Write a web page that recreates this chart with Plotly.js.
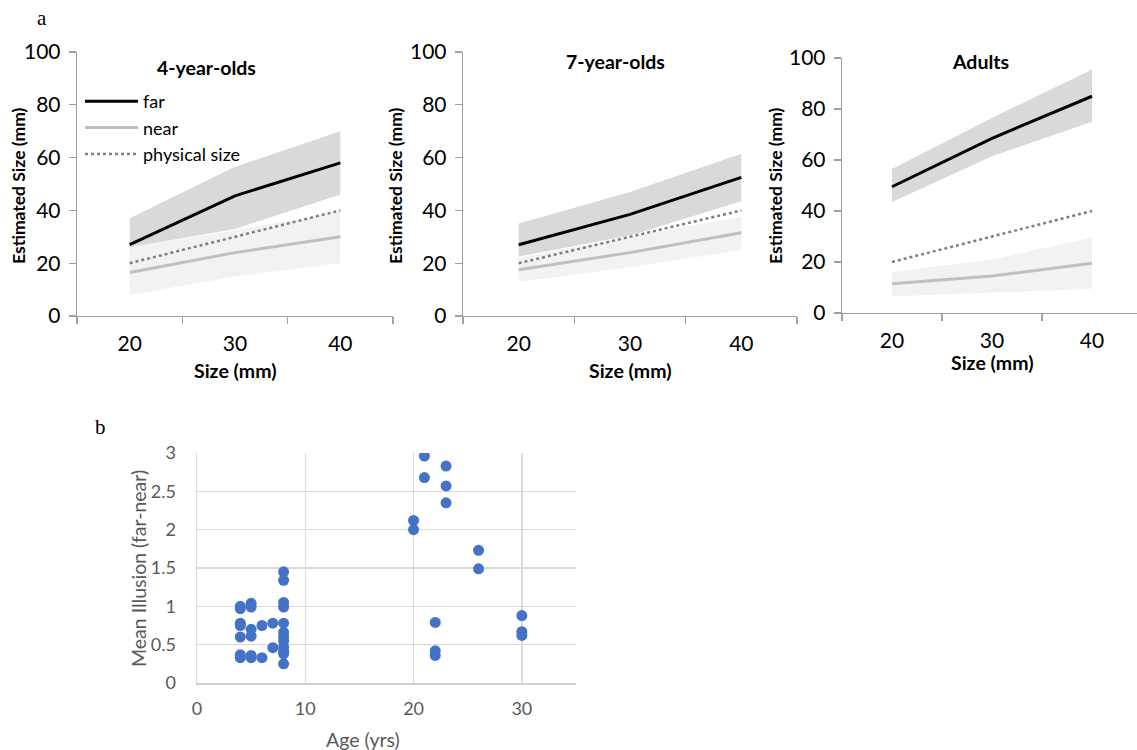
<!DOCTYPE html>
<html>
<head>
<meta charset="utf-8">
<script src="https://cdn.plot.ly/plotly-3.0.1.min.js"></script>
<style>html,body{margin:0;padding:0;background:#fff;}#chart{width:1137px;height:750px;}</style>
</head>
<body>
<div id="chart"></div>
<script>
// ---- data ----
const sizes = ['20', '30', '40'];
const physical = [20, 30, 40];

const far4 = [27, 45.5, 58];
const far4Hi = [37, 56.5, 70];
const far4Lo = [26, 33, 46];
const near4 = [16.5, 24, 30];
const near4Hi = [26, 32.5, 39.5];
const near4Lo = [8, 15, 20];

const far7 = [27, 38.5, 52.5];
const far7Hi = [35, 47, 61.5];
const far7Lo = [22.5, 30.5, 43.5];
const near7 = [17.5, 24, 31.5];
const near7Hi = [22, 30, 37.5];
const near7Lo = [13, 18.5, 25];

const farA = [49.5, 68.5, 85];
const farAHi = [56.5, 76.5, 95.5];
const farALo = [43.5, 61.5, 75];
const nearA = [11.5, 14.5, 19.5];
const nearAHi = [16, 21, 29.5];
const nearALo = [6.5, 8, 9.5];

const panelTitles = ['4-year-olds', '7-year-olds', 'Adults'];

const ages = [4, 4, 4, 4, 4, 4, 4,
  5, 5, 5, 5, 5, 5,
  6, 6,
  7, 7,
  8, 8, 8, 8, 8, 8, 8, 8, 8, 8, 8, 8,
  20, 20,
  21, 21,
  22, 22, 22,
  23, 23, 23,
  26, 26,
  30, 30, 30];
const illusion = [1.0, 0.97, 0.78, 0.75, 0.6, 0.37, 0.33,
  1.04, 0.99, 0.70, 0.61, 0.36, 0.33,
  0.75, 0.33,
  0.78, 0.46,
  1.45, 1.34, 1.05, 0.99, 0.78, 0.66, 0.6, 0.55, 0.47, 0.42, 0.38, 0.25,
  2.12, 2.0,
  2.96, 2.68,
  0.79, 0.42, 0.36,
  2.83, 2.57, 2.35,
  1.73, 1.49,
  0.88, 0.67, 0.62];

// ---- helpers ----
const W = 1137, H = 750;
const px = v => v / W;
const py = v => 1 - v / H;
const FONT = 'Lato, "Open Sans", sans-serif';

const DARK = '#D9D9D9', LIGHT = '#F2F2F2';

function panelTraces(k, far, farHi, farLo, near, nearHi, nearLo, legend) {
  const xa = k === 1 ? 'x' : 'x' + k;
  const ya = k === 1 ? 'y' : 'y' + k;
  const base = {x: sizes, xaxis: xa, yaxis: ya, type: 'scatter', hoverinfo: 'skip'};
  return [
    Object.assign({}, base, {y: nearLo, mode: 'lines', line: {width: 0, color: LIGHT}, showlegend: false}),
    Object.assign({}, base, {y: nearHi, mode: 'lines', line: {width: 0, color: LIGHT}, fill: 'tonexty', fillcolor: LIGHT, showlegend: false}),
    Object.assign({}, base, {y: farLo, mode: 'lines', line: {width: 0, color: DARK}, showlegend: false}),
    Object.assign({}, base, {y: farHi, mode: 'lines', line: {width: 0, color: DARK}, fill: 'tonexty', fillcolor: DARK, showlegend: false}),
    Object.assign({}, base, {y: far, mode: 'lines', name: 'far', line: {color: '#000000', width: 3}, showlegend: legend}),
    Object.assign({}, base, {y: near, mode: 'lines', name: 'near', line: {color: '#BFBFBF', width: 3}, showlegend: legend}),
    Object.assign({}, base, {y: physical, mode: 'lines', name: 'physical size', line: {color: '#7F7F7F', width: 2.5, dash: 'dot'}, showlegend: legend})
  ];
}

const traces = [].concat(
  panelTraces(1, far4, far4Hi, far4Lo, near4, near4Hi, near4Lo, true),
  panelTraces(2, far7, far7Hi, far7Lo, near7, near7Hi, near7Lo, false),
  panelTraces(3, farA, farAHi, farALo, nearA, nearAHi, nearALo, false),
  [{x: ages, y: illusion, xaxis: 'x4', yaxis: 'y4', type: 'scatter', mode: 'markers',
    marker: {color: '#4472C4', size: 11}, showlegend: false, hoverinfo: 'skip'}]
);

const AXC = '#A0A0A0';
function catX(x0, x1, anchor, rmax) {
  return {domain: [px(x0), px(x1)], anchor: anchor, type: 'category', range: [-0.5, rmax],
    tickson: 'boundaries', ticks: 'outside', ticklen: 7, tickcolor: AXC, tickwidth: 1.3,
    showline: true, linecolor: AXC, linewidth: 1.3, showgrid: false, zeroline: false,
    ticklabelstandoff: 8, tickfont: {family: FONT, size: 21, color: '#000'}, fixedrange: true};
}
function valY(y0, y1, anchor) {
  return {domain: [py(y1), py(y0)], anchor: anchor, range: [0, 100], dtick: 20,
    ticks: 'outside', ticklen: 7, tickcolor: AXC, tickwidth: 1.3,
    showline: true, linecolor: AXC, linewidth: 1.3, showgrid: false, zeroline: false,
    ticklabelstandoff: 4, tickfont: {family: FONT, size: 21, color: '#000'}, fixedrange: true};
}

const ann = [];
function addText(text, x, y, size, bold, color, angle, family) {
  ann.push({text: bold ? '<b>' + text + '</b>' : text, x: px(x), y: py(y), xref: 'paper', yref: 'paper',
    showarrow: false, xanchor: 'center', yanchor: 'middle', textangle: angle || 0,
    font: {family: family || FONT, size: size, color: color || '#000'}});
}
addText('a', 42, 18, 21, false, '#000', 0, '"Liberation Serif", serif');
addText('b', 100, 427, 21, false, '#000', 0, '"Liberation Serif", serif');
addText(panelTitles[0], 206, 67, 19.5, true);
addText(panelTitles[1], 615, 61, 19.5, true);
addText(panelTitles[2], 980, 61, 19.5, true);
addText('Estimated Size (mm)', 18, 186, 17.5, true, '#000', -90);
addText('Estimated Size (mm)', 395, 186, 17.5, true, '#000', -90);
addText('Estimated Size (mm)', 775, 186, 17.5, true, '#000', -90);
addText('Size (mm)', 235, 370, 19.5, true);
addText('Size (mm)', 630, 370, 19.5, true);
addText('Size (mm)', 992, 362, 19.5, true);
addText('Mean Illusion (far-near)', 138, 569, 19.5, false, '#595959', -90);
addText('Age (yrs)', 363, 739, 19.5, false, '#595959');

const layout = {
  width: W, height: H, margin: {l: 0, r: 0, t: 0, b: 0},
  paper_bgcolor: '#fff', plot_bgcolor: 'rgba(0,0,0,0)',
  font: {family: FONT},
  xaxis: catX(77, 393, 'y', 2.5),
  yaxis: valY(52, 316, 'x'),
  xaxis2: catX(463, 797, 'y2', 2.5),
  yaxis2: valY(52, 316, 'x2'),
  xaxis3: catX(842, 1137, 'y3', 2.45),
  yaxis3: valY(58, 313, 'x3'),
  xaxis4: {domain: [px(197), px(576)], anchor: 'y4', range: [0, 35], dtick: 10,
    showgrid: true, gridcolor: '#D9D9D9', gridwidth: 1.5, zeroline: false,
    showline: true, linecolor: '#D0D0D0', linewidth: 2, ticks: '', ticklabelstandoff: 8,
    tickfont: {family: FONT, size: 18, color: '#595959'}, fixedrange: true},
  yaxis4: {domain: [py(683), py(453)], anchor: 'x4', range: [0, 3], dtick: 0.5,
    showgrid: true, gridcolor: '#D9D9D9', gridwidth: 1.5, zeroline: false,
    showline: true, linecolor: '#D9D9D9', linewidth: 1.5, ticks: '', ticklabelstandoff: 16,
    tickfont: {family: FONT, size: 18, color: '#595959'}, fixedrange: true},
  showlegend: true,
  legend: {x: px(80), y: py(83), xanchor: 'left', yanchor: 'top', bgcolor: 'rgba(0,0,0,0)',
    traceorder: 'normal',
    font: {family: FONT, size: 18, color: '#000'}, itemwidth: 53, tracegroupgap: 0},
  annotations: ann
};

Plotly.newPlot('chart', traces, layout, {staticPlot: true});
</script>
</body>
</html>
